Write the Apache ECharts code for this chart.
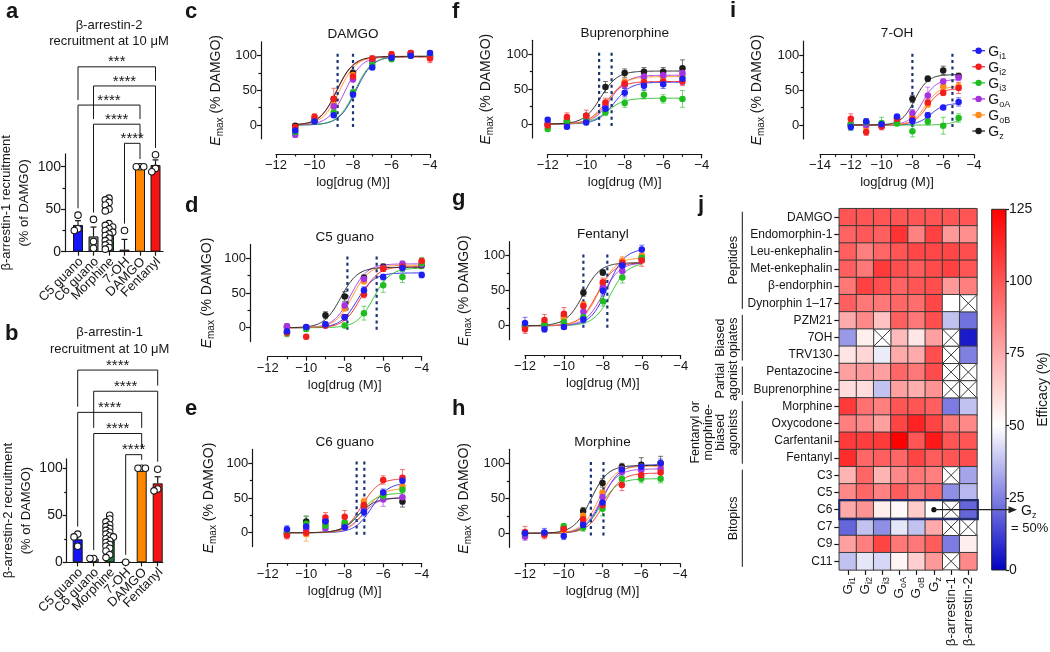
<!DOCTYPE html>
<html>
<head>
<meta charset="utf-8">
<title>G-protein subtype efficacy</title>
<script src="https://cdn.jsdelivr.net/npm/echarts@6.0.0/dist/echarts.min.js"></script>
<style>
html,body{margin:0;padding:0;background:#ffffff;}
#chart{width:1050px;height:652px;}
</style>
</head>
<body>
<div id="chart"></div>
<script>
// ======================= DATA =======================
// a / b : beta-arrestin recruitment at 10 uM (% of DAMGO)
const barCategories = ['C5 guano', 'C6 guano', 'Morphine', '7-OH', 'DAMGO', 'Fentanyl'];

const arr2Means = [31.5, 18, 31, 2.5, 100, 102];
const arr2Sems = [5, 11, 3, 12, 1, 6];
const arr2Points = [
  [43, 27, 25],
  [38, 12, 4],
  [63, 61, 58, 55, 50, 48, 33, 31, 29, 27, 25, 23, 21, 19, 16, 13, 10, 8, 5, 3],
  [25],
  [100, 100, 100],
  [114, 98, 94]
];
const arr2Sig = [[0, 5, '***'], [1, 5, '****'], [0, 4, '****'], [1, 4, '****'], [3, 4, '****']];

const arr1Means = [24.5, 4, 26, 0, 100, 84];
const arr1Sems = [4, 1, 3, 0, 1, 7];
const arr1Points = [
  [30, 27, 17],
  [4, 4],
  [50, 46, 43, 40, 38, 36, 34, 32, 30, 28, 27, 25, 23, 21, 19, 17, 15, 12, 8, 5],
  [0],
  [100, 100, 100],
  [99, 78, 76]
];
const arr1Sig = [[0, 5, '****'], [1, 5, '****'], [0, 4, '****'], [1, 4, '****'], [3, 4, '****']];

// c-i : concentration-response, rows = Gi1, Gi2, Gi3, GoA, GoB, Gz
const receptorNames = ['Gi1', 'Gi2', 'Gi3', 'GoA', 'GoB', 'Gz'];

const damgoDoses = [-11, -10, -9, -8, -7, -6, -5, -4];
const damgoMeans = [
  [-8, 5, 14, 44, 83, 97, 100, 104],
  [-3, 12, 38, 70, 96, 102, 104, 96],
  [-10, 6, 18, 47, 87, 95, 100, 100],
  [-14, 7, 27, 66, 92, 99, 104, 98],
  [-5, 9, 30, 72, 95, 100, 103, 100],
  [-1, 8, 37, 75, 95, 100, 102, 100]
];
const damgoErrs = [
  [4, 3, 3, 4, 3, 3, 3, 3],
  [4, 4, 15, 4, 4, 4, 3, 6],
  [4, 3, 3, 4, 3, 3, 3, 3],
  [4, 3, 4, 4, 3, 3, 3, 3],
  [4, 3, 4, 4, 3, 3, 3, 3],
  [3, 3, 4, 4, 3, 3, 3, 3]
];
const damgoFits = [[-7.85, 99], [-8.85, 98], [-7.9, 99], [-8.4, 99], [-8.7, 99], [-8.85, 99]];
const damgoMarks = [-8.8, -8.0];

const bupDoses = [-12, -11, -10, -9, -8, -7, -6, -5];
const bupMeans = [
  [6, -4, 2, 22, 45, 55, 57, 65],
  [-2, 10, 12, 31, 58, 60, 61, 61],
  [-7, 4, 5, 17, 30, 42, 36, 36],
  [-1, 5, 6, 25, 56, 68, 70, 73],
  [0, 6, 8, 28, 60, 66, 67, 70],
  [0, 3, 12, 53, 73, 75, 75, 80]
];
const bupErrs = [
  [3, 3, 3, 5, 6, 6, 6, 8],
  [3, 6, 8, 6, 6, 6, 6, 6],
  [3, 3, 3, 5, 6, 6, 6, 12],
  [3, 4, 4, 5, 5, 5, 5, 6],
  [3, 4, 4, 5, 5, 5, 5, 6],
  [3, 3, 3, 8, 6, 6, 6, 12]
];
const bupFits = [[-8.55, 60], [-9.0, 61], [-8.9, 37], [-8.75, 70], [-8.85, 68], [-9.25, 76]];
const bupMarks = [-9.33, -8.68];

const ohDoses = [-12, -11, -10, -9, -8, -7, -6, -5];
const ohMeans = [
  [-3, 5, 1, 12, 6, 14, 25, 33],
  [9, -10, -2, 9, 8, 32, 46, 53],
  [0, 4, 3, 2, -9, 5, -1, 10],
  [1, 0, -2, 5, 17, 42, 62, 68],
  [2, -3, 0, 5, 12, 30, 55, 55],
  [0, 3, 1, 10, 37, 66, 78, 70]
];
const ohErrs = [
  [4, 4, 4, 3, 4, 4, 3, 6],
  [7, 5, 5, 4, 4, 5, 4, 8],
  [8, 5, 8, 3, 8, 5, 12, 6],
  [3, 3, 3, 3, 5, 12, 4, 4],
  [4, 4, 4, 4, 5, 5, 5, 5],
  [3, 3, 3, 3, 5, 4, 6, 4]
];
const ohFits = [[-6.8, 31], [-7.05, 52], [-5.0, 12], [-7.35, 65], [-7.15, 55], [-7.85, 72]];
const ohMarks = [-8.0, -5.4];

const c5Doses = [-11, -10, -9, -8, -7, -6, -5, -4];
const c5Means = [
  [-5, 1, 5, 15, 54, 73, 86, 76],
  [-7, -13, 3, 15, 48, 85, 88, 96],
  [-8, -2, 4, 3, 21, 61, 73, 93],
  [2, 0, 3, 32, 70, 86, 92, 91],
  [0, 0, 4, 28, 67, 86, 90, 95],
  [1, 0, 18, 45, 72, 88, 88, 90]
];
const c5Errs = [
  [4, 3, 3, 4, 5, 4, 4, 4],
  [5, 3, 3, 4, 5, 4, 4, 4],
  [5, 3, 3, 3, 10, 10, 8, 8],
  [4, 3, 3, 4, 4, 4, 4, 4],
  [4, 3, 3, 4, 4, 4, 4, 4],
  [3, 3, 5, 7, 4, 4, 4, 4]
];
const c5Fits = [[-7.35, 79], [-7.15, 88], [-6.5, 86], [-7.7, 92], [-7.6, 90], [-8.2, 87]];
const c5Marks = [-7.86, -6.34];

const fentDoses = [-12, -11, -10, -9, -8, -7, -6];
const fentMeans = [
  [4, -5, -2, 9, 50, 86, 109],
  [-5, 8, 17, 28, 62, 90, 93],
  [-2, 2, 5, 12, 35, 69, 97],
  [-1, 0, 3, 20, 55, 78, 95],
  [0, 3, 10, 30, 60, 93, 100],
  [0, 0, 14, 47, 76, 88, 96]
];
const fentErrs = [
  [8, 4, 3, 5, 6, 5, 6],
  [6, 8, 9, 6, 6, 6, 8],
  [4, 3, 3, 4, 7, 8, 6],
  [4, 4, 4, 4, 4, 4, 4],
  [4, 4, 6, 4, 5, 6, 5],
  [3, 3, 5, 5, 4, 4, 4]
];
const fentFits = [[-7.75, 110], [-8.3, 90], [-7.6, 90], [-8.0, 90], [-8.2, 97], [-9.0, 90]];
const fentMarks = [-9.0, -7.77];

const c6Doses = [-11, -10, -9, -8, -7, -6, -5];
const c6Means = [
  [5, 9, 16, 8, 30, 58, 75],
  [-4, 0, 22, 23, 40, 76, 79],
  [0, 13, 10, 15, 40, 53, 62],
  [-1, 5, 6, 8, 32, 48, 51],
  [-2, -2, 12, 10, 45, 55, 67],
  [0, 16, 17, 12, 38, 55, 45]
];
const c6Errs = [
  [5, 6, 5, 3, 6, 5, 5],
  [5, 5, 7, 9, 6, 6, 12],
  [4, 10, 8, 5, 4, 5, 5],
  [4, 5, 4, 3, 6, 10, 10],
  [5, 10, 6, 4, 5, 6, 5],
  [4, 8, 6, 4, 4, 5, 8]
];
const c6Fits = [[-6.6, 72], [-7.1, 78], [-7.2, 57], [-7.1, 51], [-6.9, 64], [-7.3, 50]];
const c6Marks = [-7.38, -6.98];

const morDoses = [-12, -11, -10, -9, -8, -7, -6, -5];
const morMeans = [
  [0, 1, -4, 12, 44, 91, 95, 100],
  [2, -2, 6, 20, 40, 69, 83, 87],
  [0, 0, 10, 8, 35, 78, 78, 78],
  [-5, -1, 8, 15, 52, 88, 90, 92],
  [-2, -2, 4, 25, 58, 92, 95, 97],
  [0, 0, 5, 32, 72, 95, 98, 100]
];
const morErrs = [
  [4, 6, 5, 4, 6, 6, 6, 6],
  [8, 6, 5, 5, 6, 8, 6, 6],
  [4, 4, 4, 5, 10, 6, 6, 6],
  [5, 4, 4, 4, 6, 6, 6, 6],
  [4, 4, 4, 4, 4, 4, 4, 4],
  [3, 3, 3, 5, 6, 5, 10, 10]
];
const morFits = [[-8.0, 98], [-7.9, 86], [-8.1, 78], [-8.1, 92], [-8.2, 96], [-8.6, 97]];
const morMarks = [-8.6, -7.95];

// j : efficacy heatmap (% of DAMGO); null = not determined (crossed cell)
const hmRows = ['DAMGO', 'Endomorphin-1', 'Leu-enkephalin', 'Met-enkephalin', 'β-endorphin', 'Dynorphin 1–17',
  'PZM21', '7OH', 'TRV130', 'Pentazocine', 'Buprenorphine', 'Morphine', 'Oxycodone', 'Carfentanil', 'Fentanyl',
  'C3', 'C5', 'C6', 'C7', 'C9', 'C11'];
const hmCols = ['Gi1', 'Gi2', 'Gi3', 'GoA', 'GoB', 'Gz', 'β-arrestin-1', 'β-arrestin-2'];
const hmValues = [
  [100, 100, 100, 100, 100, 100, 100, 100],
  [96, 99, 97, 110, 87, 106, 80, 83],
  [97, 88, 95, 100, 104, 104, 104, 102],
  [97, 90, 108, 102, 98, 103, 106, 100],
  [90, 106, 102, 96, 100, 102, 80, 88],
  [97, 90, 90, 95, 93, 104, 50, null],
  [75, 85, 68, 97, 90, 102, 38, 22],
  [30, 55, null, 70, 57, 78, null, 5],
  [58, 62, 46, 75, 75, 102, null, 25],
  [78, 80, 78, 95, 90, 103, null, null],
  [60, 60, 38, 78, 74, 82, null, null],
  [108, 92, 88, 100, 100, 97, 24, 38],
  [88, 85, 78, 105, 115, 105, 90, 85],
  [108, 107, 108, 125, 100, 118, 100, 100],
  [112, 95, 97, 95, 105, 98, 100, 102],
  [72, 95, 72, 85, 90, 88, null, 32],
  [85, 95, 87, 98, 90, 95, 28, 36],
  [75, 82, 55, 52, 65, 50, null, 20],
  [20, 38, 28, 45, 38, 75, null, null],
  [78, 88, 105, 90, 90, 98, 24, 55],
  [38, 45, 42, 53, 64, 80, null, 85]
];
const hmGroups = [
  [['Peptides'], 0, 5],
  [['Biased', 'opiates'], 6, 8],
  [['Partial', 'agonist'], 9, 10],
  [['Fentanyl or', 'morphine-', 'biased', 'agonists'], 11, 14],
  [['Bitopics'], 15, 20]
];
const efficacyTicks = [0, 25, 50, 75, 100, 125];

// ======================= STYLE / LAYOUT =======================
const FONT = 'Liberation Sans';
const INK = '#161616';
const RECEPTOR_COLORS = ['#1e1ef2', '#f21e1e', '#1fbd1f', '#a633e0', '#ff8a1c', '#1c1c1c'];
const BAR_COLORS = ['#1414f5', '#8f8f8f', '#1d7a34', '#3a3a3a', '#ff8500', '#f51414'];
const MARK_COLOR = '#1b3472';
const EFFICACY_COLORS = ['#0000c4', '#8080e2', '#ffffff', '#ffaaaa', '#ff5555', '#ff0000'];

const BAR_LAYOUT = {
  a: { axisX: 65, axisEnd: 163, c0: 78, step: 15.5, y0: 251.7, y100: 166.7, ymax: 115, titleY: 33.5, nameGap: 21,
       title: 'β-arrestin-2\nrecruitment at 10 μM', yName: 'β-arrestin-1 recruitment\n(% of DAMGO)' },
  b: { axisX: 66.7, axisEnd: 162.7, c0: 77.7, step: 16, y0: 562.3, y100: 468.3, ymax: 110, titleY: 340.8, nameGap: 23,
       title: 'β-arrestin-1\nrecruitment at 10 μM', yName: 'β-arrestin-2 recruitment\n(% of DAMGO)' }
};
const DOSE_LAYOUT = {
  damgo: { left: 276, right: 430, y100: 55.7, y0: 125, axisX: 261, axisY: 154, xmin: -12, nameX: 217, title: 'DAMGO' },
  c5: { left: 267.7, right: 421.7, y100: 258.3, y0: 327.7, axisX: 250, axisY: 356.7, xmin: -12, nameX: 208, title: 'C5 guano' },
  c6: { left: 267.7, right: 421.7, y100: 463.3, y0: 532.7, axisX: 252.3, axisY: 563.3, xmin: -12, nameX: 210, title: 'C6 guano' },
  bup: { left: 547.7, right: 701.7, y100: 54.3, y0: 124, axisX: 532.3, axisY: 154.3, xmin: -12, nameX: 487, title: 'Buprenorphine' },
  fent: { left: 525, right: 680.7, y100: 255.7, y0: 325.7, axisX: 509.3, axisY: 355, xmin: -12, nameX: 465, title: 'Fentanyl' },
  mor: { left: 525, right: 680, y100: 463.3, y0: 533.3, axisX: 509.3, axisY: 563.3, xmin: -12, nameX: 465, title: 'Morphine' },
  oh: { left: 820, right: 974, y100: 55, y0: 125, axisX: 803.3, axisY: 154.3, xmin: -14, nameX: 758, title: '7-OH' }
};
const HM = { left: 839.3, top: 208.7, cell: 17.2, groupLineX: 742.3 };
const CBAR = { left: 991.7, top: 209.3, width: 14.3, height: 360.7 };
const LETTERS = [['a', 6, 20], ['b', 5, 341.7], ['c', 185, 20], ['d', 185, 213.3], ['e', 185, 416.7],
  ['f', 452, 20], ['g', 452, 206.7], ['h', 452, 416.7], ['i', 730, 18.3], ['j', 698, 213]];

// ======================= BUILD =======================
const grids = [], xAxes = [], yAxes = [], series = [], elements = [], visualMaps = [];
const lineStyle = () => ({ color: INK, width: 1.2 });
const fmtNum = v => (v < 0 ? '\u2212' + (-v) : String(v));
const subRich = (g, s) => ({
  g: { fontSize: g, lineHeight: 18, fontFamily: FONT, color: INK },
  s: { fontSize: s, lineHeight: 9, verticalAlign: 'bottom', fontFamily: FONT, color: INK }
});
const subText = name => (name.charAt(0) === 'G' ? '{g|G}{s|' + name.slice(1) + '}' : name);

function addText(x, y, str, o) {
  o = o || {};
  const style = { text: str, fill: INK, fontFamily: FONT, fontSize: o.size || 13, fontWeight: o.weight || 'normal',
    align: o.align || 'center', verticalAlign: o.valign || 'middle' };
  if (o.lineHeight) style.lineHeight = o.lineHeight;
  if (o.rich) style.rich = o.rich;
  elements.push({ type: 'text', x, y, rotation: o.rotation || 0, silent: true, z: 20, style });
}

function addValueYAxes(gi, min, max, majors, minors, offset, labelSize, name, nameGap, nameStyle) {
  yAxes.push({
    gridIndex: gi, type: 'value', min, max, position: 'left', offset,
    axisLine: { show: true, onZero: false, lineStyle: lineStyle() },
    axisTick: { show: true, customValues: majors, length: 4, lineStyle: lineStyle() },
    axisLabel: { show: true, customValues: majors, fontSize: labelSize, color: INK, fontFamily: FONT, margin: 4,
      formatter: fmtNum, showMinLabel: true, showMaxLabel: true, hideOverlap: false },
    splitLine: { show: false },
    name, nameLocation: 'middle', nameGap, nameRotate: 90, nameTextStyle: nameStyle
  });
  const idx = yAxes.length - 1;
  yAxes.push({
    gridIndex: gi, type: 'value', min, max, position: 'left', offset,
    axisLine: { show: false, onZero: false },
    axisTick: { show: true, customValues: minors, length: 2.5, lineStyle: lineStyle() },
    axisLabel: { show: false }, splitLine: { show: false }
  });
  return idx;
}

function swarm(vals, ppuY, pxPerX) {
  const placed = [];
  return vals.map(v => {
    const y = v * ppuY;
    for (const k of [0, -1, 1, -2, 2, -3, 3]) {
      const x = k * 3.7;
      if (placed.every(q => Math.hypot(q[0] - x, q[1] - y) >= 3.6)) { placed.push([x, y]); return x / pxPerX; }
    }
    placed.push([0, y]);
    return 0;
  });
}

function addBarPanel(L, means, sems, points, sig) {
  const ppu = (L.y0 - L.y100) / 100;
  const gi = grids.length;
  const top = L.y0 - L.ymax * ppu;
  grids.push({ left: L.axisX, top, width: L.axisEnd - L.axisX, height: L.ymax * ppu, outerBoundsMode: 'none' });
  const idx = barCategories.map((c, i) => i);
  const xi = xAxes.length;
  xAxes.push({
    gridIndex: gi, type: 'value', position: 'bottom',
    min: (L.axisX - L.c0) / L.step, max: (L.axisEnd - L.c0) / L.step,
    axisLine: { onZero: false, lineStyle: lineStyle() },
    axisTick: { customValues: idx, length: 4, lineStyle: lineStyle() },
    axisLabel: { show: false },
    splitLine: { show: false }
  });
  const yi = addValueYAxes(gi, 0, L.ymax, [0, 50, 100], [25, 75], 0, 14, L.yName, L.nameGap,
    { fontSize: 13, color: INK, fontFamily: FONT, lineHeight: 18 });
  const base = { xAxisIndex: xi, yAxisIndex: yi, silent: true };
  series.push(Object.assign({
    type: 'bar', barWidth: 10, z: 2,
    data: means.map((m, i) => ({ value: [i, m], itemStyle: { color: BAR_COLORS[i], borderColor: INK, borderWidth: 1 } }))
  }, base));
  // category labels (rotated 45 deg), positioned through the axis scale
  series.push(Object.assign({
    type: 'custom', z: 3, clip: false,
    data: barCategories.map((c, i) => [i, 0]),
    renderItem: (p, api) => {
      const pt = api.coord([api.value(0), 0]);
      return { type: 'text', x: pt[0] + 3, y: pt[1] + 8, rotation: Math.PI / 4,
        style: { text: barCategories[p.dataIndex], fill: INK, fontSize: 13, fontFamily: FONT, align: 'right', verticalAlign: 'middle' } };
    }
  }, base));
  series.push(Object.assign({
    type: 'custom', z: 3, clip: false,
    data: means.map((m, i) => [i, m, sems[i]]),
    renderItem: (p, api) => {
      const x = api.value(0), m = api.value(1), e = api.value(2);
      if (!(e > 0)) return;
      const a = api.coord([x, m]), b = api.coord([x, m + e]);
      return { type: 'group', children: [
        { type: 'line', shape: { x1: a[0], y1: a[1], x2: b[0], y2: b[1] }, style: { stroke: INK, lineWidth: 1.2 } },
        { type: 'line', shape: { x1: b[0] - 3, y1: b[1], x2: b[0] + 3, y2: b[1] }, style: { stroke: INK, lineWidth: 1.2 } }
      ] };
    }
  }, base));
  const pts = [];
  points.forEach((vals, i) => swarm(vals, ppu, L.step).forEach((dx, k) => pts.push([i + dx, vals[k]])));
  series.push(Object.assign({
    type: 'scatter', z: 4, symbol: 'circle', symbolSize: 6.5,
    itemStyle: { color: '#ffffff', borderColor: INK, borderWidth: 1.1, opacity: 1 }, data: pts
  }, base));
  // significance brackets
  const tops = points.map((p, i) => Math.max(...p, means[i] + sems[i]));
  const gTop = Math.max(...tops);
  const n = sig.length;
  const levels = sig.map((s, k) => gTop + 13.5 + (n - 1 - k) * 22.5);
  const legEnd = (cat, k) => {
    for (let j = k + 1; j < n; j++) if (sig[j][0] === cat || sig[j][1] === cat) return levels[j] + 6;
    return tops[cat] + 8;
  };
  series.push(Object.assign({
    type: 'custom', z: 3, clip: false,
    data: sig.map(s => [s[0], 0]),
    renderItem: (p, api) => {
      const k = p.dataIndex, s = sig[k];
      const A = api.coord([s[0], legEnd(s[0], k)]), B = api.coord([s[0], levels[k]]);
      const C = api.coord([s[1], levels[k]]), D = api.coord([s[1], legEnd(s[1], k)]);
      return { type: 'group', children: [
        { type: 'polyline', shape: { points: [A, B, C, D] }, style: { stroke: INK, lineWidth: 1, fill: null } },
        { type: 'text', x: (B[0] + C[0]) / 2, y: B[1] + 3,
          style: { text: s[2], fill: INK, fontSize: 15, fontFamily: FONT, align: 'center', verticalAlign: 'bottom' } }
      ] };
    }
  }, base));
  addText((L.axisX + L.axisEnd) / 2 - 5, L.titleY, L.title, { size: 13, lineHeight: 16.5 });
}

const EMAX_STYLE = {
  color: INK, fontFamily: FONT,
  rich: {
    e: { fontSize: 14, fontStyle: 'italic', lineHeight: 18, fontFamily: FONT, color: INK },
    m: { fontSize: 10, lineHeight: 9, verticalAlign: 'bottom', fontFamily: FONT, color: INK },
    t: { fontSize: 14, lineHeight: 18, fontFamily: FONT, color: INK }
  }
};

function addDosePanel(L, doses, means, errs, fits, marks) {
  const ppu = (L.y0 - L.y100) / 100;
  const gi = grids.length;
  const top = L.y0 - 120 * ppu, height = 140 * ppu;
  grids.push({ left: L.left, top, width: L.right - L.left, height, outerBoundsMode: 'none' });
  const xi = xAxes.length;
  xAxes.push({
    gridIndex: gi, type: 'value', position: 'bottom', min: L.xmin, max: -4, interval: 2,
    offset: L.axisY - (top + height),
    axisLine: { onZero: false, lineStyle: lineStyle() },
    axisTick: { length: 4, lineStyle: lineStyle() },
    minorTick: { show: true, splitNumber: 2, length: 2.5, lineStyle: lineStyle() },
    axisLabel: { fontSize: 13, color: INK, fontFamily: FONT, margin: 5, formatter: fmtNum,
      showMinLabel: true, showMaxLabel: true },
    splitLine: { show: false }, minorSplitLine: { show: false },
    name: 'log[drug (M)]', nameLocation: 'middle', nameGap: 22,
    nameTextStyle: { fontSize: 13, color: INK, fontFamily: FONT }
  });
  const yi = addValueYAxes(gi, -20, 120, [0, 50, 100], [25, 75], L.left - L.axisX, 13,
    '{e|E}{m|max}{t| (% DAMGO)}', L.axisX - L.nameX - 8, EMAX_STYLE);
  const base = { xAxisIndex: xi, yAxisIndex: yi, silent: true };
  const x0 = doses[0], x1 = doses[doses.length - 1];
  // fitted curves (parameters)
  for (let s = 0; s < receptorNames.length; s++) {
    const color = RECEPTOR_COLORS[s];
    series.push(Object.assign({
      type: 'custom', z: 2, clip: false, data: [fits[s]],
      renderItem: (p, api) => {
        const lec = api.value(0), topv = api.value(1);
        const pts = [];
        for (let k = 0; k <= 120; k++) {
          const x = x0 + (x1 - x0) * k / 120;
          pts.push(api.coord([x, topv / (1 + Math.pow(10, lec - x))]));
        }
        return { type: 'polyline', shape: { points: pts }, style: { stroke: color, lineWidth: 1, fill: null, opacity: 0.9 } };
      }
    }, base));
  }
  // dotted potency markers
  series.push(Object.assign({
    type: 'custom', z: 3, clip: false, data: marks.map(v => [v, 50]),
    renderItem: (p, api) => {
      const v = api.value(0);
      const a = api.coord([v, -3]), b = api.coord([v, 103]);
      return { type: 'line', shape: { x1: a[0], y1: a[1], x2: b[0], y2: b[1] },
        style: { stroke: MARK_COLOR, lineWidth: 2.2, lineDash: [3, 3.4] } };
    }
  }, base));
  // error bars + points (blue drawn last, on top)
  for (let s = receptorNames.length - 1; s >= 0; s--) {
    const color = RECEPTOR_COLORS[s];
    series.push(Object.assign({
      type: 'custom', z: 4, clip: false,
      data: doses.map((d, j) => [d, means[s][j], errs[s][j]]),
      renderItem: (p, api) => {
        const x = api.value(0), m = api.value(1), e = api.value(2);
        const a = api.coord([x, m - e]), b = api.coord([x, m + e]);
        return { type: 'group', children: [
          { type: 'line', shape: { x1: a[0], y1: a[1], x2: b[0], y2: b[1] }, style: { stroke: color, lineWidth: 1, opacity: 0.6 } },
          { type: 'line', shape: { x1: a[0] - 2.5, y1: a[1], x2: a[0] + 2.5, y2: a[1] }, style: { stroke: color, lineWidth: 1, opacity: 0.6 } },
          { type: 'line', shape: { x1: b[0] - 2.5, y1: b[1], x2: b[0] + 2.5, y2: b[1] }, style: { stroke: color, lineWidth: 1, opacity: 0.6 } }
        ] };
      }
    }, base));
    series.push(Object.assign({
      type: 'scatter', z: 5, symbol: 'circle', symbolSize: 6.5, name: receptorNames[s],
      itemStyle: { color, opacity: 1 },
      data: doses.map((d, j) => [d, means[s][j]])
    }, base));
  }
  addText((L.left + L.right) / 2, top - 7.5, L.title, { size: 13.5 });
  return { top, height };
}

addBarPanel(BAR_LAYOUT.a, arr2Means, arr2Sems, arr2Points, arr2Sig);
addBarPanel(BAR_LAYOUT.b, arr1Means, arr1Sems, arr1Points, arr1Sig);
addDosePanel(DOSE_LAYOUT.damgo, damgoDoses, damgoMeans, damgoErrs, damgoFits, damgoMarks);
addDosePanel(DOSE_LAYOUT.c5, c5Doses, c5Means, c5Errs, c5Fits, c5Marks);
addDosePanel(DOSE_LAYOUT.c6, c6Doses, c6Means, c6Errs, c6Fits, c6Marks);
addDosePanel(DOSE_LAYOUT.bup, bupDoses, bupMeans, bupErrs, bupFits, bupMarks);
addDosePanel(DOSE_LAYOUT.fent, fentDoses, fentMeans, fentErrs, fentFits, fentMarks);
addDosePanel(DOSE_LAYOUT.mor, morDoses, morMeans, morErrs, morFits, morMarks);
addDosePanel(DOSE_LAYOUT.oh, ohDoses, ohMeans, ohErrs, ohFits, ohMarks);

// legend of panel i
(function () {
  const L = DOSE_LAYOUT.oh;
  const lx = L.right - 1.7, ly = 50.7, step = 16.07;
  receptorNames.forEach((nm, k) => {
    const y = ly + k * step, c = RECEPTOR_COLORS[k];
    elements.push({ type: 'line', silent: true, z: 20, shape: { x1: lx, y1: y, x2: lx + 12.7, y2: y }, style: { stroke: c, lineWidth: 1.2 } });
    elements.push({ type: 'circle', silent: true, z: 21, shape: { cx: lx + 6.3, cy: y, r: 3.2 }, style: { fill: c } });
    addText(lx + 16, y + 1, subText(nm), { align: 'left', rich: subRich(14, 9) });
  });
})();

// heatmap j
(function () {
  const gi = grids.length;
  const W = HM.cell * hmCols.length, H = HM.cell * hmRows.length;
  grids.push({ left: HM.left, top: HM.top, width: W, height: H, outerBoundsMode: 'none' });
  const xi = xAxes.length;
  xAxes.push({
    gridIndex: gi, type: 'category', data: hmCols, position: 'bottom',
    axisLine: { show: false, onZero: false },
    axisTick: { show: true, alignWithLabel: true, length: 5, lineStyle: lineStyle() },
    axisLabel: { rotate: 90, margin: 7, fontSize: 13.5, color: INK, fontFamily: FONT, interval: 0,
      formatter: subText, rich: subRich(13.5, 9) },
    splitLine: { show: false }
  });
  const yi = yAxes.length;
  yAxes.push({
    gridIndex: gi, type: 'category', data: hmRows, inverse: true, position: 'left',
    axisLine: { show: false, onZero: false },
    axisTick: { show: true, alignWithLabel: true, length: 5, lineStyle: lineStyle() },
    axisLabel: { fontSize: 12, margin: 7, color: INK, fontFamily: FONT, interval: 0 },
    splitLine: { show: false }
  });
  const data = [], crossed = [];
  hmValues.forEach((row, r) => row.forEach((v, c) => { if (v == null) crossed.push([c, r]); else data.push([c, r, v]); }));
  const hmIndex = series.length;
  series.push({ type: 'heatmap', xAxisIndex: xi, yAxisIndex: yi, data, silent: true,
    itemStyle: { borderColor: '#3a3a3a', borderWidth: 1 } });
  visualMaps.push({ type: 'continuous', min: 0, max: 125, dimension: 2, seriesIndex: hmIndex, show: false,
    inRange: { color: EFFICACY_COLORS } });
  series.push({ type: 'custom', xAxisIndex: xi, yAxisIndex: yi, silent: true, z: 3, data: crossed,
    renderItem: (p, api) => {
      const c = api.coord([api.value(0), api.value(1)]), sz = api.size([1, 1]);
      const x0 = c[0] - sz[0] / 2, y0 = c[1] - sz[1] / 2, x1 = x0 + sz[0], y1 = y0 + sz[1];
      const st = { stroke: '#3a3a3a', lineWidth: 1 };
      return { type: 'group', children: [
        { type: 'rect', shape: { x: x0, y: y0, width: sz[0], height: sz[1] }, style: { fill: '#ffffff', stroke: '#3a3a3a', lineWidth: 1 } },
        { type: 'line', shape: { x1: x0, y1: y0, x2: x1, y2: y1 }, style: st },
        { type: 'line', shape: { x1: x0, y1: y1, x2: x1, y2: y0 }, style: st }
      ] };
    } });

  // group brackets
  hmGroups.forEach(g => {
    const yTop = HM.top + g[1] * HM.cell + 3, yBot = HM.top + (g[2] + 1) * HM.cell - 3;
    elements.push({ type: 'line', silent: true, z: 20, shape: { x1: HM.groupLineX, y1: yTop, x2: HM.groupLineX, y2: yBot },
      style: { stroke: INK, lineWidth: 1 } });
    const n = g[0].length, lh = 12.5;
    addText(HM.groupLineX - 3 - n * lh / 2, (yTop + yBot) / 2, g[0].join('\n'),
      { size: 12.5, lineHeight: lh, rotation: Math.PI / 2 });
  });

  // C6 annotation
  const r = hmRows.indexOf('C6'), cz = hmCols.indexOf('Gz');
  const ry = HM.top + r * HM.cell, cy = ry + HM.cell / 2, cx = HM.left + (cz + 0.5) * HM.cell;
  elements.push({ type: 'rect', silent: true, z: 22, shape: { x: HM.left, y: ry - 1, width: W + 1, height: HM.cell + 2 },
    style: { fill: null, stroke: '#1a2a6c', lineWidth: 2 } });
  elements.push({ type: 'circle', silent: true, z: 23, shape: { cx, cy, r: 2.6 }, style: { fill: '#111' } });
  elements.push({ type: 'line', silent: true, z: 23, shape: { x1: cx, y1: cy, x2: 1012, y2: cy }, style: { stroke: '#222', lineWidth: 1.2 } });
  elements.push({ type: 'polygon', silent: true, z: 23, shape: { points: [[1017, cy], [1008.5, cy - 3.5], [1008.5, cy + 3.5]] }, style: { fill: '#222' } });
  addText(1021, cy + 1, '{g|G}{s|z}', { align: 'left', rich: subRich(14, 9) });
  addText(1011, cy + 18.5, '= 50%', { align: 'left', size: 13 });
})();

// colour bar
(function () {
  const gi = grids.length;
  grids.push({ left: CBAR.left, top: CBAR.top, width: CBAR.width, height: CBAR.height, outerBoundsMode: 'none' });
  const xi = xAxes.length;
  xAxes.push({ gridIndex: gi, type: 'value', min: 0, max: 1, show: false });
  const yi = yAxes.length;
  yAxes.push({
    gridIndex: gi, type: 'value', min: 0, max: 125, position: 'right',
    axisLine: { show: false, onZero: false },
    axisTick: { show: true, customValues: efficacyTicks, length: 3, lineStyle: lineStyle() },
    axisLabel: { customValues: efficacyTicks, fontSize: 14, margin: 3, color: INK, fontFamily: FONT,
      showMinLabel: true, showMaxLabel: true },
    splitLine: { show: false },
    name: 'Efficacy (%)', nameLocation: 'middle', nameRotate: 90, nameGap: 27,
    nameTextStyle: { fontSize: 14, color: INK, fontFamily: FONT }
  });
  const stops = EFFICACY_COLORS.map((c, i) => ({ offset: i / (EFFICACY_COLORS.length - 1), color: c }));
  series.push({ type: 'custom', xAxisIndex: xi, yAxisIndex: yi, silent: true, clip: false, data: [[0, 0]],
    renderItem: (p, api) => {
      const a = api.coord([0, 125]), b = api.coord([1, 0]);
      return { type: 'rect', shape: { x: a[0], y: a[1], width: b[0] - a[0], height: b[1] - a[1] },
        style: { fill: new echarts.graphic.LinearGradient(0, 1, 0, 0, stops), stroke: '#222', lineWidth: 1 } };
    } });
})();

// panel letters
LETTERS.forEach(l => addText(l[1], l[2] - 7.7, l[0], { size: 22, weight: 'bold', align: 'left' }));

const chart = echarts.init(document.getElementById('chart'), null, { renderer: 'canvas', width: 1050, height: 652 });
chart.setOption({
  animation: false,
  backgroundColor: '#ffffff',
  textStyle: { fontFamily: FONT },
  grid: grids, xAxis: xAxes, yAxis: yAxes, series, visualMap: visualMaps,
  graphic: { elements }
});
</script>
</body>
</html>
